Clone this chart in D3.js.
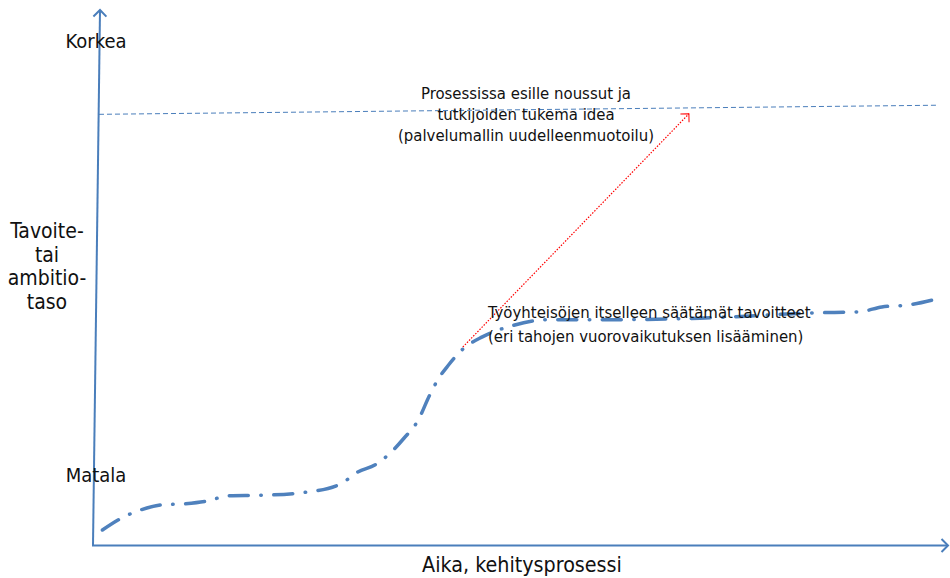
<!DOCTYPE html>
<html>
<head>
<meta charset="utf-8">
<script src="https://cdn.jsdelivr.net/npm/d3@7"></script>
<style>
body { margin: 0; background: #ffffff; }
text { font-family: "DejaVu Sans Condensed", "DejaVu Sans", sans-serif; fill: #111111; }
</style>
</head>
<body>
<div class="chart"></div>
<script>
// Development curve: time (0..10) vs. ambition level (0..10)
var curveTime  = [0.04, 0.25, 0.48, 0.74, 1.01, 1.27, 1.52, 1.92, 2.45, 2.84, 3.04, 3.26,
                  3.44, 3.59, 3.75, 3.89, 3.99, 4.11, 4.28, 4.51, 4.84, 5.27, 5.89, 7.07,
                  8.45, 8.95, 9.21, 9.54, 9.86];
var curveLevel = [0.28, 0.49, 0.65, 0.75, 0.77, 0.82, 0.92, 0.93, 0.99, 1.14, 1.36, 1.51,
                  1.74, 2.00, 2.32, 2.80, 3.10, 3.36, 3.66, 3.89, 4.09, 4.21, 4.21, 4.24,
                  4.34, 4.36, 4.45, 4.49, 4.60];

// The idea raised during the process (thin dashed line)
var ideaTime  = [0.0, 9.86];
var ideaLevel = [8.05, 8.22];

// The jump from the curve up to the idea (red dotted arrow)
var jumpTime  = [4.28, 6.94];
var jumpLevel = [3.70, 8.06];

var levelLabels = ["Matala", "Korkea"];
var levelLabelValues = [1.18, 9.29];
var yTitle = ["Tavoite-", "tai", "ambitio-", "taso"];
var xTitle = "Aika, kehitysprosessi";
var ideaText = ["Prosessissa esille noussut ja", "tutkijoiden tukema idea", "(palvelumallin uudelleenmuotoilu)"];
var curveText = ["Työyhteisöjen itselleen säätämät tavoitteet", "(eri tahojen vuorovaikutuksen lisääminen)"];

var width = 950;
var height = 578;
var blue = "#4a7ebb";

var x = d3.scaleLinear().domain([0, 10]).range([99, 949]);
var y = d3.scaleLinear().domain([0, 10]).range([545, 10]);

var svg = d3.select(".chart").append("svg")
	.attr("width", width)
	.attr("height", height);

var defs = svg.append("defs");

// open chevron arrow heads
function addMarker(id, color, size, sw) {
	defs.append("marker")
		.attr("id", id)
		.attr("viewBox", "-12 -12 24 24")
		.attr("markerUnits", "userSpaceOnUse")
		.attr("markerWidth", 24)
		.attr("markerHeight", 24)
		.attr("refX", 0)
		.attr("refY", 0)
		.attr("orient", "auto")
		.append("path")
		.attr("d", "M" + (-size) + "," + (-size) + " L0,0 L" + (-size) + "," + size)
		.attr("fill", "none")
		.attr("stroke", color)
		.attr("stroke-width", sw);
}
addMarker("axisArrow", blue, 6.5, 2);
addMarker("redArrow", "#ff0000", 6, 1);

// axes (slightly tilted y axis like the original drawing)
svg.append("line")
	.attr("x1", 93).attr("y1", 545)
	.attr("x2", 100).attr("y2", 10)
	.attr("stroke", blue)
	.attr("stroke-width", 2)
	.attr("marker-end", "url(#axisArrow)");

svg.append("line")
	.attr("x1", 92).attr("y1", 545.5)
	.attr("x2", 948).attr("y2", 545.5)
	.attr("stroke", blue)
	.attr("stroke-width", 2)
	.attr("marker-end", "url(#axisArrow)");

// idea level line
svg.append("line")
	.attr("x1", x(ideaTime[0])).attr("y1", y(ideaLevel[0]))
	.attr("x2", x(ideaTime[1])).attr("y2", y(ideaLevel[1]))
	.attr("stroke", blue)
	.attr("stroke-width", 1)
	.attr("stroke-dasharray", "5,3");

// development curve
var curveData = curveTime.map(function(t, i) { return { t: t, v: curveLevel[i] }; });

var line = d3.line()
	.x(function(d) { return x(d.t); })
	.y(function(d) { return y(d.v); })
	.curve(d3.curveMonotoneX);

svg.append("path")
	.datum(curveData)
	.attr("d", line)
	.attr("fill", "none")
	.attr("stroke", "#4f81bd")
	.attr("stroke-width", 3.5)
	.attr("stroke-linecap", "round")
	.attr("stroke-dasharray", "19,12.5,0.5,12.5");

// red dotted arrow
svg.append("line")
	.attr("x1", x(jumpTime[0])).attr("y1", y(jumpLevel[0]))
	.attr("x2", x(jumpTime[1])).attr("y2", y(jumpLevel[1]))
	.attr("stroke", "#ff0000")
	.attr("stroke-width", 1.2)
	.attr("stroke-dasharray", "1.5,1.5")
	.attr("marker-end", "url(#redArrow)");

// level labels
for(var i = 0; i < levelLabels.length; i++) {
	svg.append("text")
		.attr("x", 96)
		.attr("y", y(levelLabelValues[i]))
		.attr("text-anchor", "middle")
		.attr("font-size", 20)
		.text(levelLabels[i]);
}

// y title
for(var i = 0; i < yTitle.length; i++) {
	svg.append("text")
		.attr("x", 47)
		.attr("y", 238 + i * 23.5)
		.attr("text-anchor", "middle")
		.attr("font-size", 21)
		.text(yTitle[i]);
}

// x title
svg.append("text")
	.attr("x", 522)
	.attr("y", 572)
	.attr("text-anchor", "middle")
	.attr("font-size", 21.3)
	.text(xTitle);

// annotations
for(var i = 0; i < ideaText.length; i++) {
	svg.append("text")
		.attr("x", 526)
		.attr("y", 99 + i * 21.2)
		.attr("text-anchor", "middle")
		.attr("font-size", 16.6)
		.text(ideaText[i]);
}

for(var i = 0; i < curveText.length; i++) {
	svg.append("text")
		.attr("x", 488)
		.attr("y", 318 + i * 23.5)
		.attr("font-size", 16.6)
		.text(curveText[i]);
}
</script>
</body>
</html>
